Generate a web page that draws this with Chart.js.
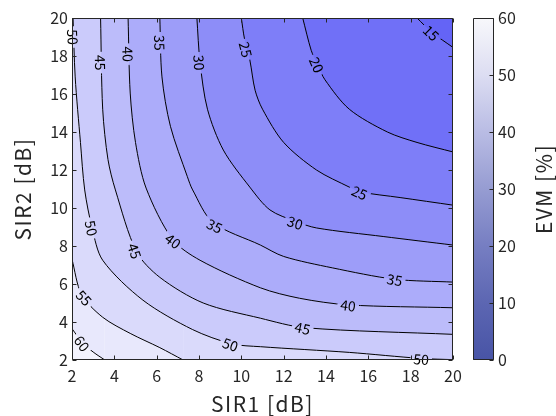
<!DOCTYPE html>
<html>
<head>
<meta charset="utf-8">
<script src="https://cdn.jsdelivr.net/npm/chart.js@4/dist/chart.umd.min.js"></script>
<style>
  html, body { margin: 0; padding: 0; background: #ffffff; }
  #wrap { position: relative; width: 556px; height: 416px; }
  #main { position: absolute; left: 0; top: 0; }
  #cbar { position: absolute; left: 440px; top: 0; }
</style>
</head>
<body>
<div id="wrap">
  <canvas id="main" width="556" height="416"></canvas>
  <canvas id="cbar" width="116" height="416"></canvas>
</div>
<script>
// Axis ticks
const sirTicks = [2, 4, 6, 8, 10, 12, 14, 16, 18, 20];
const evmTicks = [0, 10, 20, 30, 40, 50, 60];

// Axis titles
const xTitle = 'SIR1 [dB]';
const yTitle = 'SIR2 [dB]';
const cbTitle = 'EVM [%]';

// Contour levels of EVM [%]
const levels = [15, 20, 25, 30, 35, 40, 45, 50, 55, 60];

// Iso-EVM lines, [SIR1, SIR2] in dB, ordered from the top/left edge to the right/bottom edge
const c15 = [[18.3, 20], [19.0, 19.25], [20, 18.45]];
const c20 = [[12.9, 20], [13.3, 18.3], [13.6, 17.55], [13.95, 16.75], [15.1, 15.2], [16.9, 14.0], [18.3, 13.45], [20, 12.95]];
const c25 = [[10.0, 20], [10.15, 18.9], [10.4, 17.8], [10.65, 16.2], [11.0, 15.2], [12.0, 13.45], [13.55, 12.0], [15.1, 11.1], [15.6, 10.85], [17.5, 10.55], [20, 10.15]];
const c30 = [[7.9, 20], [8.05, 17.65], [8.4, 15.2], [9.15, 13.05], [10.4, 11.1], [11.35, 9.9], [12.55, 9.3], [13.55, 8.95], [16.7, 8.5], [20, 8.05]];
const c35 = [[6.15, 20], [6.25, 16.9], [6.65, 14.3], [7.45, 11.65], [7.7, 10.95], [8.65, 9.25], [10.9, 8.05], [12.0, 7.45], [14.3, 6.85], [17.25, 6.25], [20, 6.1]];
const c40 = [[4.65, 20], [4.75, 16.05], [5.0, 13.45], [5.5, 11.05], [6.75, 8.35], [8.05, 7.25], [10.9, 5.8], [12.75, 5.25], [15.05, 4.9], [20, 4.75]];
const c45 = [[3.35, 20], [3.45, 15.2], [3.7, 12.55], [4.05, 10.95], [5.05, 7.7], [6.15, 6.35], [8.2, 5.0], [10.9, 4.2], [13.0, 3.7], [20, 3.35]];
const c50 = [[2.05, 20], [2.15, 16.9], [2.4, 13.45], [2.6, 10.95], [2.95, 8.95], [3.45, 7.25], [5.35, 5.15], [7.7, 3.6], [9.55, 2.85], [10.9, 2.7], [15.1, 2.4], [18.5, 2.08], [20, 2.02]];
const c55 = [[2, 7.3], [2.45, 5.45], [3.45, 4.25], [4.75, 3.4], [6.15, 2.65], [7.25, 2]];
const c60 = [[2, 3.65], [2.5, 2.9], [3.0, 2.42], [3.55, 2]];

// Where each level's value is written on its line
const lab15 = [[19.0, 19.25]];
const lab20 = [[13.6, 17.55]];
const lab25 = [[10.25, 18.35], [15.6, 10.85]];
const lab30 = [[8.05, 17.65], [12.55, 9.27]];
const lab35 = [[6.18, 18.7], [8.75, 9.1], [17.25, 6.27]];
const lab40 = [[4.68, 18.1], [6.8, 8.3], [15.05, 4.92]];
const lab45 = [[3.38, 17.65], [5.0, 7.75], [12.9, 3.72]];
const lab50 = [[2.08, 19.0], [2.95, 8.95], [9.5, 2.86], [18.5, 2.09]];
const lab55 = [[2.6, 5.3]];
const lab60 = [[2.5, 2.9]];

const contours = [
  { level: 15, line: c15, labels: lab15 },
  { level: 20, line: c20, labels: lab20 },
  { level: 25, line: c25, labels: lab25 },
  { level: 30, line: c30, labels: lab30 },
  { level: 35, line: c35, labels: lab35 },
  { level: 40, line: c40, labels: lab40 },
  { level: 45, line: c45, labels: lab45 },
  { level: 50, line: c50, labels: lab50 },
  { level: 55, line: c55, labels: lab55 },
  { level: 60, line: c60, labels: lab60 }
];

// Band colours, from the band above 60 % down to the band below 15 %
const bandColors = ['#f3f3fd', '#e8e8fc', '#dadafb', '#cbcbfb', '#bcbcfa', '#acacfa', '#9d9df9', '#8d8df8', '#7e7ef8', '#7070f7', '#6464f6'];

const FONT = "'Noto Sans CJK JP', 'Noto Sans', sans-serif";
const INK = '#262626';
const TENSION = 0.3;
const LABEL_PX = 14;

// ---- datasets: filled bands first (higher order = drawn earlier), then the lines
const datasets = [];
datasets.push({
  data: [[2, 2], [20, 2]], showLine: true, fill: 'end',
  backgroundColor: bandColors[0], borderColor: 'transparent', borderWidth: 0,
  pointRadius: 0, order: 100
});
const desc = levels.slice().sort((a, b) => b - a);
desc.forEach((lv, i) => {
  const entry = contours.find(c => c.level === lv);
  const line = entry.line;
  const last = line[line.length - 1];
  datasets.push({
    data: line, showLine: true, fill: 'end', tension: TENSION,
    backgroundColor: bandColors[i + 1], borderColor: 'transparent', borderWidth: 0,
    pointRadius: 0, order: 90 - i * 2
  });
  if (last[1] === 2 && last[0] < 20) {
    // the region right of where the line meets the bottom edge
    datasets.push({
      data: [last, [20, 2]], showLine: true, fill: 'end',
      backgroundColor: bandColors[i + 1], borderColor: 'transparent', borderWidth: 0,
      pointRadius: 0, order: 90 - i * 2
    });
  }
});
contours.forEach(entry => {
  datasets.push({
    data: entry.line, showLine: true, fill: false, tension: TENSION,
    borderColor: '#000000', borderWidth: 1, pointRadius: 0,
    order: 0, contourLevel: entry.level
  });
});

// ---- label placement along a line (position + upright rotation)
function labelPlacements(chart, entry) {
  const xs = chart.scales.x, ys = chart.scales.y;
  const pts = entry.line.map(p => [xs.getPixelForValue(p[0]), ys.getPixelForValue(p[1])]);
  const ctx = chart.ctx;
  ctx.save();
  ctx.font = LABEL_PX + 'px ' + FONT;
  const w = ctx.measureText(String(entry.level)).width;
  ctx.restore();
  return entry.labels.map(a => {
    const px = xs.getPixelForValue(a[0]), py = ys.getPixelForValue(a[1]);
    let best = Infinity, ang = 0;
    for (let i = 0; i < pts.length - 1; i++) {
      const [x1, y1] = pts[i], [x2, y2] = pts[i + 1];
      const dx = x2 - x1, dy = y2 - y1, l2 = dx * dx + dy * dy;
      let t = l2 ? ((px - x1) * dx + (py - y1) * dy) / l2 : 0;
      t = Math.max(0, Math.min(1, t));
      const qx = x1 + t * dx - px, qy = y1 + t * dy - py, d = qx * qx + qy * qy;
      if (d < best) { best = d; ang = Math.atan2(dy, dx); }
    }
    if (ang > Math.PI / 2) ang -= Math.PI;
    if (ang <= -Math.PI / 2) ang += Math.PI;
    return { px, py, ang, w };
  });
}

const contourLabels = {
  id: 'contourLabels',
  beforeDatasetDraw(chart, args) {
    const ds = chart.data.datasets[args.index];
    if (!ds.contourLevel) return;
    const entry = contours.find(c => c.level === ds.contourLevel);
    const ctx = chart.ctx;
    ctx.save();
    ctx.beginPath();
    ctx.rect(0, 0, chart.width, chart.height);
    labelPlacements(chart, entry).forEach(p => {
      const hw = p.w / 2 + 3, hh = 7;
      const c = Math.cos(p.ang), s = Math.sin(p.ang);
      const corners = [[-hw, -hh], [hw, -hh], [hw, hh], [-hw, hh]].map(([u, v]) => [p.px + u * c - v * s, p.py + u * s + v * c]);
      ctx.moveTo(corners[0][0], corners[0][1]);
      for (let k = 1; k < 4; k++) ctx.lineTo(corners[k][0], corners[k][1]);
      ctx.closePath();
    });
    ctx.clip('evenodd');
  },
  afterDatasetDraw(chart, args) {
    const ds = chart.data.datasets[args.index];
    if (!ds.contourLevel) return;
    chart.ctx.restore();
  },
  afterDatasetsDraw(chart) {
    const ctx = chart.ctx;
    const a = chart.chartArea;
    ctx.save();
    ctx.beginPath();
    ctx.rect(a.left - 6, a.top - 6, a.right - a.left + 12, a.bottom - a.top + 12);
    ctx.clip();
    ctx.fillStyle = '#000000';
    ctx.font = LABEL_PX + 'px ' + FONT;
    ctx.textAlign = 'center';
    ctx.textBaseline = 'middle';
    contours.forEach(entry => {
      labelPlacements(chart, entry).forEach(p => {
        ctx.save();
        ctx.translate(p.px, p.py);
        ctx.rotate(p.ang);
        ctx.fillText(String(entry.level), 0, 1);
        ctx.restore();
      });
    });
    ctx.restore();
  }
};

// draw a rotated, slightly letter-spaced axis title
function drawTitle(ctx, text, x, y, rot) {
  ctx.save();
  ctx.fillStyle = INK;
  ctx.font = '21px ' + FONT;
  if ('letterSpacing' in ctx) ctx.letterSpacing = '1.5px';
  ctx.textAlign = 'center';
  ctx.textBaseline = 'middle';
  ctx.translate(x, y);
  ctx.rotate(rot);
  ctx.fillText(text, 0, 0);
  ctx.restore();
}

// ---- box with inward tick marks on all four sides, plus axis titles
const boxFrame = {
  id: 'boxFrame',
  afterDraw(chart) {
    const ctx = chart.ctx, a = chart.chartArea;
    const xs = chart.scales.x, ys = chart.scales.y;
    const L = Math.round(a.left) + 0.5, R = Math.round(a.right) - 0.5;
    const T = Math.round(a.top) + 0.5, B = Math.round(a.bottom) - 0.5;
    ctx.save();
    ctx.strokeStyle = INK;
    ctx.lineWidth = 1;
    ctx.beginPath();
    ctx.rect(L, T, R - L, B - T);
    const len = 4;
    xs.ticks.forEach(t => {
      const x = Math.round(xs.getPixelForValue(t.value)) + 0.5;
      ctx.moveTo(x, B); ctx.lineTo(x, B - len);
      ctx.moveTo(x, T); ctx.lineTo(x, T + len);
    });
    ys.ticks.forEach(t => {
      const y = Math.round(ys.getPixelForValue(t.value)) + 0.5;
      ctx.moveTo(L, y); ctx.lineTo(L + len, y);
      ctx.moveTo(R, y); ctx.lineTo(R - len, y);
    });
    ctx.stroke();
    ctx.restore();
    drawTitle(ctx, xTitle, (a.left + a.right) / 2, 404, 0);
    drawTitle(ctx, yTitle, 23, (a.top + a.bottom) / 2, -Math.PI / 2);
  }
};

const tickFont = { family: FONT, size: 16 };
const noGrid = { display: false, drawTicks: false };

new Chart(document.getElementById('main'), {
  type: 'scatter',
  data: { datasets },
  options: {
    responsive: false,
    animation: false,
    devicePixelRatio: 1,
    layout: { padding: { top: 18, right: 103, left: 0, bottom: 0 } },
    plugins: { legend: { display: false }, tooltip: { enabled: false } },
    scales: {
      x: {
        type: 'linear', min: sirTicks[0], max: sirTicks[sirTicks.length - 1],
        afterBuildTicks(s) { s.ticks = sirTicks.map(v => ({ value: v })); },
        ticks: { color: INK, font: tickFont, padding: 6, maxRotation: 0, autoSkip: false },
        grid: noGrid, border: { display: false },
        afterFit(s) { s.height = 56; }
      },
      y: {
        type: 'linear', min: sirTicks[0], max: sirTicks[sirTicks.length - 1],
        afterBuildTicks(s) { s.ticks = sirTicks.map(v => ({ value: v })); },
        ticks: { color: INK, font: tickFont, padding: 4, autoSkip: false },
        grid: noGrid, border: { display: false },
        afterFit(s) { s.width = 72; }
      }
    }
  },
  plugins: [contourLabels, boxFrame]
});

// ---- colour bar
const cbStops = [
  [0, 'rgb(72,84,166)'], [10, 'rgb(92,102,178)'], [20, 'rgb(118,126,194)'],
  [30, 'rgb(150,156,210)'], [40, 'rgb(185,188,228)'], [50, 'rgb(220,221,242)'], [60, 'rgb(248,248,251)']
];

const cbFrame = {
  id: 'cbFrame',
  afterDraw(chart) {
    const ctx = chart.ctx, a = chart.chartArea, ys = chart.scales.y;
    const L = Math.round(a.left) + 0.5, R = Math.round(a.right) - 0.5;
    const T = Math.round(a.top) + 0.5, B = Math.round(a.bottom) - 0.5;
    ctx.save();
    ctx.strokeStyle = INK;
    ctx.lineWidth = 1;
    ctx.beginPath();
    ctx.rect(L, T, R - L, B - T);
    ys.ticks.forEach(t => {
      const y = Math.round(ys.getPixelForValue(t.value)) + 0.5;
      ctx.moveTo(R, y); ctx.lineTo(R - 4, y);
    });
    ctx.stroke();
    ctx.restore();
    drawTitle(ctx, cbTitle, 104, (a.top + a.bottom) / 2, -Math.PI / 2);
  }
};

new Chart(document.getElementById('cbar'), {
  type: 'bar',
  data: {
    labels: ['EVM'],
    datasets: [{
      data: [evmTicks[evmTicks.length - 1]],
      barPercentage: 1, categoryPercentage: 1, borderWidth: 0,
      backgroundColor(ctx) {
        const area = ctx.chart.chartArea;
        if (!area) return 'rgb(150,156,210)';
        const g = ctx.chart.ctx.createLinearGradient(0, area.bottom, 0, area.top);
        cbStops.forEach(([v, col]) => g.addColorStop(v / 60, col));
        return g;
      }
    }]
  },
  options: {
    responsive: false,
    animation: false,
    devicePixelRatio: 1,
    layout: { padding: { left: 33, top: 18, right: 0, bottom: 56 } },
    plugins: { legend: { display: false }, tooltip: { enabled: false } },
    scales: {
      x: { display: false },
      y: {
        position: 'right', min: evmTicks[0], max: evmTicks[evmTicks.length - 1],
        afterBuildTicks(s) { s.ticks = evmTicks.map(v => ({ value: v })); },
        ticks: { color: INK, font: tickFont, padding: 4 },
        grid: noGrid, border: { display: false },
        afterFit(s) { s.width = 62; }
      }
    }
  },
  plugins: [cbFrame]
});
</script>
</body>
</html>
